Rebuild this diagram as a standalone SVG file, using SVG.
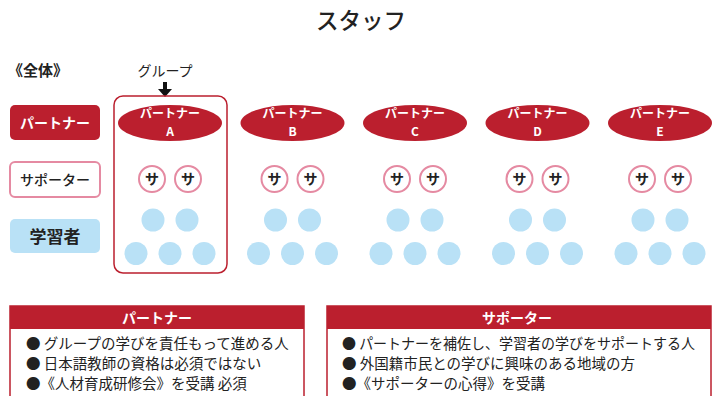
<svg xmlns="http://www.w3.org/2000/svg" width="712" height="396" viewBox="0 0 712 396">
<defs>
<style>
text{font-family:"Noto Sans CJK JP","Noto Sans",sans-serif;}
.red{fill:#bb1f2e;}
.wt{fill:#fff;font-weight:bold;text-anchor:middle;}
.dk{fill:#222;text-anchor:middle;}
.sa{fill:#fff;stroke:#e58aa2;stroke-width:2;}
.bl{fill:#b9e1f6;}
.body{fill:#222;font-size:14.5px;}
</style>
<g id="sup"><circle class="sa" cx="-18" cy="0" r="13"/><circle class="sa" cx="18" cy="0" r="13"/><text class="dk" x="-18" y="5" font-size="14" font-weight="bold">サ</text><text class="dk" x="18" y="5" font-size="14" font-weight="bold">サ</text></g>
<g id="lrn"><circle class="bl" cx="-17" cy="0" r="11.5"/><circle class="bl" cx="17" cy="0" r="11.5"/><circle class="bl" cx="-34" cy="33.5" r="11.5"/><circle class="bl" cx="0" cy="33.5" r="11.5"/><circle class="bl" cx="34" cy="33.5" r="11.5"/></g>
</defs>
<rect width="712" height="396" fill="#fff"/>
<text x="361" y="29" font-size="22.5" font-weight="500" fill="#222" text-anchor="middle">スタッフ</text>
<text x="8" y="76" font-size="15" font-weight="bold" fill="#222">《全体》</text>
<text x="165" y="76" font-size="14" fill="#222" text-anchor="middle">グループ</text>
<g id="connectors">
<path d="M163,82 H167 V89 H172 L165,97 L158,89 H163 Z" fill="#111"/>
</g>
<g id="labels">
<rect x="10" y="105" width="90" height="35" rx="5" class="red"/>
<text x="55" y="128" font-size="14" class="wt">パートナー</text>
<rect x="10" y="162" width="90" height="35" rx="5" fill="#fff" stroke="#e58aa2" stroke-width="2"/>
<text x="55" y="185" font-size="14" font-weight="500" class="dk">サポーター</text>
<rect x="10" y="219" width="90" height="34" rx="5" class="bl"/>
<text x="55" y="243" font-size="17" font-weight="bold" class="dk">学習者</text>
</g>
<g id="groupA-frame"><rect x="114" y="96" width="113" height="177" rx="9" fill="none" stroke="#bb1f2e" stroke-width="1.5"/></g>
<g id="groupA" transform="translate(170,0)">
<ellipse cx="0" cy="123" rx="52" ry="18" class="red"/>
<text font-size="12" class="wt"><tspan x="0" y="118">パートナー</tspan><tspan x="0" y="135.5">A</tspan></text>
<use href="#sup" y="179"/><use href="#lrn" y="220"/>
</g>
<g id="groupB" transform="translate(292.5,0)">
<ellipse cx="0" cy="123" rx="52" ry="18" class="red"/>
<text font-size="12" class="wt"><tspan x="0" y="118">パートナー</tspan><tspan x="0" y="135.5">B</tspan></text>
<use href="#sup" y="179"/><use href="#lrn" y="220"/>
</g>
<g id="groupC" transform="translate(415,0)">
<ellipse cx="0" cy="123" rx="52" ry="18" class="red"/>
<text font-size="12" class="wt"><tspan x="0" y="118">パートナー</tspan><tspan x="0" y="135.5">C</tspan></text>
<use href="#sup" y="179"/><use href="#lrn" y="220"/>
</g>
<g id="groupD" transform="translate(537.5,0)">
<ellipse cx="0" cy="123" rx="52" ry="18" class="red"/>
<text font-size="12" class="wt"><tspan x="0" y="118">パートナー</tspan><tspan x="0" y="135.5">D</tspan></text>
<use href="#sup" y="179"/><use href="#lrn" y="220"/>
</g>
<g id="groupE" transform="translate(660,0)">
<ellipse cx="0" cy="123" rx="52" ry="18" class="red"/>
<text font-size="12" class="wt"><tspan x="0" y="118">パートナー</tspan><tspan x="0" y="135.5">E</tspan></text>
<use href="#sup" y="179"/><use href="#lrn" y="220"/>
</g>
<g id="partnerBox">
<rect x="10" y="306" width="294" height="100" fill="#fff" stroke="#bb1f2e" stroke-width="1.5"/>
<rect x="10" y="306" width="294" height="23" class="red"/>
<text x="157" y="323" font-size="14" class="wt" font-weight="normal">パートナー</text>
<text x="26" y="349" class="body">● グループの学びを責任もって進める人</text>
<text x="26" y="369" class="body">● 日本語教師の資格は必須ではない</text>
<text x="26" y="389" class="body">●《人材育成研修会》を受講 必須</text>
</g>
<g id="supporterBox">
<rect x="327" y="306" width="384" height="100" fill="#fff" stroke="#bb1f2e" stroke-width="1.5"/>
<rect x="327" y="306" width="384" height="23" class="red"/>
<text x="517" y="323" font-size="14" class="wt" font-weight="normal">サポーター</text>
<text x="342" y="349" class="body" textLength="353" lengthAdjust="spacingAndGlyphs">● パートナーを補佐し、学習者の学びをサポートする人</text>
<text x="342" y="369" class="body">● 外国籍市民との学びに興味のある地域の方</text>
<text x="342" y="389" class="body">●《サポーターの心得》を受講</text>
</g>
</svg>
